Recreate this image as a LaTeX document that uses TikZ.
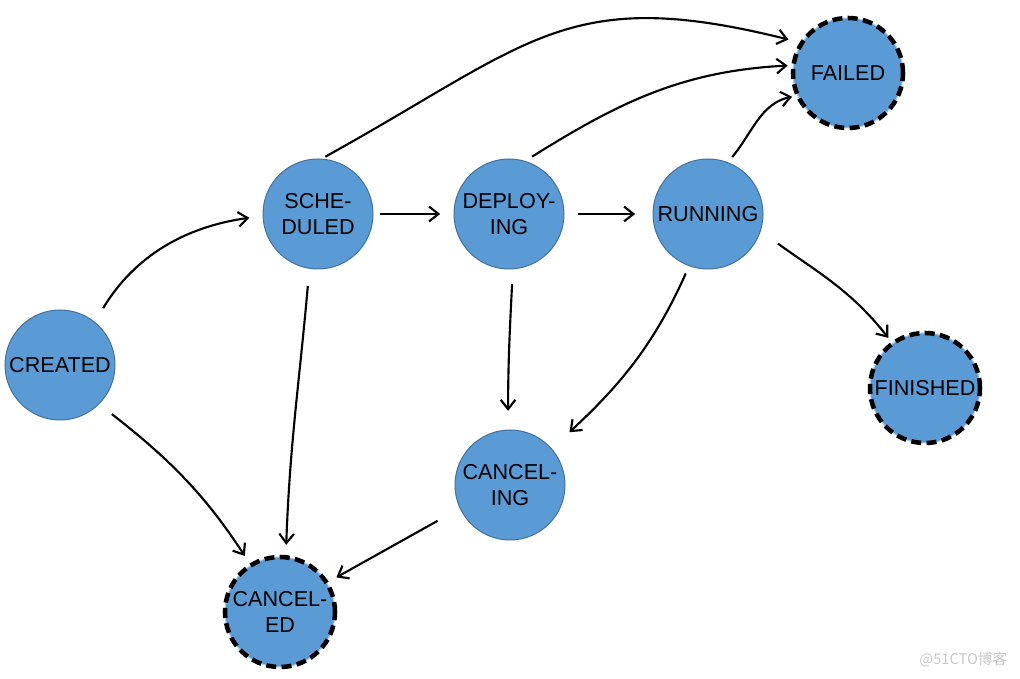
\documentclass[tikz,border=0pt]{standalone}
\usepackage{fontspec}
\setmainfont{Liberation Sans}
\newfontfamily\cjkfont{Noto Sans CJK SC}
\usetikzlibrary{arrows.meta}
\definecolor{nodefill}{HTML}{5B9BD5}
\definecolor{nodeline}{HTML}{41719C}
\definecolor{ringbase}{HTML}{A9CBEA}
\begin{document}
\begin{tikzpicture}[x=0.75pt,y=0.75pt,
  state/.style={circle, fill=nodefill, draw=nodeline, line width=0.75pt, minimum size=82.5pt, inner sep=0pt, align=center, font=\fontsize{16.2}{20}\selectfont, text=black},
  final/.style={state, draw=ringbase, postaction={draw=black, line width=3.4pt, dash pattern=on 7.5pt off 4pt}},
  edge/.style={-{Straight Barb[length=7pt,width=11pt]}, line width=1.6pt, black},
]
\useasboundingbox (0,0) rectangle (1020,678);
\node[state] (CR) at (60,313) {CREATED};
\node[state] (SC) at (318,464) {SCHE-\\DULED};
\node[state] (DE) at (509,464) {DEPLOY-\\ING};
\node[state] (RU) at (708,464) {RUNNING};
\node[final] (FA) at (848,605) {FAILED};
\node[final] (FI) at (925,290) {FINISHED};
\node[state] (CG) at (510,193) {CANCEL-\\ING};
\node[final] (CD) at (280,66) {CANCEL-\\ED};

\draw[edge, shorten <=12pt, shorten >=10pt] (CR.51) to[out=59,in=188] (SC.182);
\draw[edge, shorten <=12pt, shorten >=8pt] (CR.-45) to[out=-38,in=123] (CD.122);
\draw[edge, shorten <=3pt, shorten >=10pt] (SC.86) to[out=29,in=166,looseness=1.25] (FA.147);
\draw[edge, shorten <=5pt, shorten >=10pt] (SC.0) -- (DE.180);
\draw[edge, shorten <=13pt, shorten >=9pt] (SC.-99) to[out=-95,in=88] (CD.84);
\draw[edge, shorten <=6pt, shorten >=4pt] (DE.73) to[out=32,in=183] (FA.172);
\draw[edge, shorten <=10pt, shorten >=13pt] (DE.0) -- (RU.180);
\draw[edge, shorten <=11pt, shorten >=14pt] (DE.-86) to[out=-93,in=90] (CG.92);
\draw[edge, shorten <=5pt, shorten >=4pt] (RU.69) to[out=50,in=192] (FA.204);
\draw[edge, shorten <=16pt, shorten >=5pt] (RU.-18) to[out=-36,in=128] (FI.126);
\draw[edge, shorten <=6pt, shorten >=18pt] (RU.-110) to[out=-114,in=43] (CG.41);
\draw[edge, shorten <=19pt, shorten >=8pt] (CG.205) -- (CD.32);

\node[anchor=east, text=black!22, font=\cjkfont\fontsize{11}{13}\selectfont] (wm) at (1012,18) {@51CTO博客};
\end{tikzpicture}
\end{document}
